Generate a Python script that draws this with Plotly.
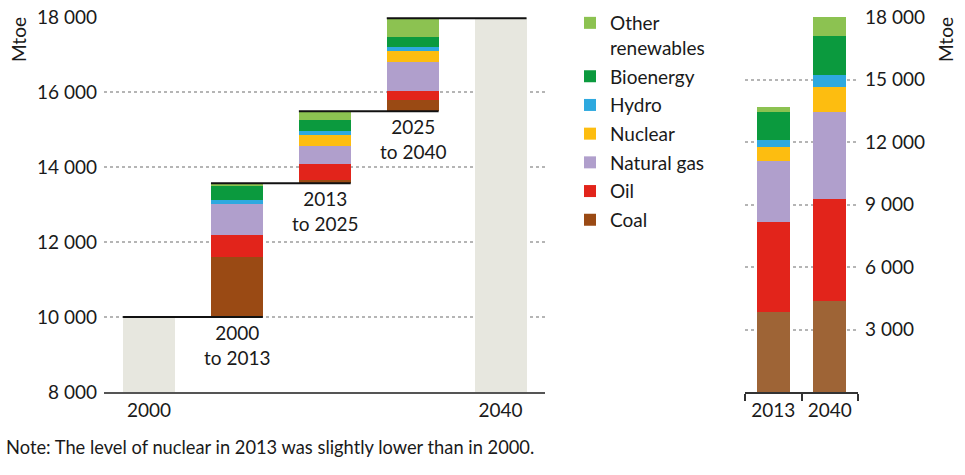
import plotly.graph_objects as go

# ---------------- data ----------------
fuels = ["Coal", "Oil", "Natural gas", "Nuclear", "Hydro", "Bioenergy", "Other<br>renewables"]
colors_left = ["#9a4a14", "#e2241b", "#b09fcc", "#fdbd10", "#2ea9df", "#0b9a3e", "#8cc251"]
colors_right = ["#9e6436", "#e2241b", "#b09fcc", "#fdbd10", "#2ea9df", "#0b9a3e", "#8cc251"]

end_labels = ["2000", "2040"]
end_values = [10000, 17970]          # total demand, Mtoe
step_labels = ["2000<br>to 2013", "2013<br>to 2025", "2025<br>to 2040"]

coal_delta = [1590, 80, 310]
oil_delta = [600, 420, 220]
gas_delta = [820, 500, 780]
nuclear_delta = [0, 285, 290]
hydro_delta = [120, 100, 105]
bio_delta = [370, 300, 265]
other_delta = [70, 235, 510]
deltas = [coal_delta, oil_delta, gas_delta, nuclear_delta, hydro_delta, bio_delta, other_delta]

right_years = ["2013", "2040"]
coal_lvl = [3860, 4370]
oil_lvl = [4290, 4890]
gas_lvl = [2940, 4180]
nuclear_lvl = [690, 1200]
hydro_lvl = [320, 590]
bio_lvl = [1350, 1860]
other_lvl = [250, 915]
levels = [coal_lvl, oil_lvl, gas_lvl, nuclear_lvl, hydro_lvl, bio_lvl, other_lvl]

left_ticks = [8000, 10000, 12000, 14000, 16000, 18000]
left_ticktext = ["8 000", "10 000", "12 000", "14 000", "16 000", "18 000"]
right_ticks = [3000, 6000, 9000, 12000, 15000, 18000]
right_ticktext = ["3 000", "6 000", "9 000", "12 000", "15 000", "18 000"]

# ---------------- layout helpers ----------------
W, H = 965, 475
FONT = "Lato, 'Open Sans', sans-serif"
TXT = "#1a1a1a"
BW = 0.59
GRAY = "#e7e7df"
GRID = "#b5b5b5"
FS = 19

fig = go.Figure()

# end bars (2000, 2040)
fig.add_trace(go.Bar(x=[0, 4], y=end_values, width=BW, marker=dict(color=GRAY, line=dict(width=0)),
                     showlegend=False, hoverinfo="skip", xaxis="x", yaxis="y"))

# waterfall steps
step_x = [1, 2, 3]
lvl = end_values[0]
step_starts = []
for i in range(3):
    step_starts.append(lvl)
    lvl += sum(d[i] for d in deltas)
final_level = lvl

running = list(step_starts)
for f, name in enumerate(fuels):
    fig.add_trace(go.Bar(x=step_x, y=deltas[f], base=list(running), width=BW,
                         marker=dict(color=colors_left[f], line=dict(width=0)),
                         name=name, legendgroup=name, legendrank=100 - f, showlegend=True,
                         xaxis="x", yaxis="y"))
    running = [running[i] + deltas[f][i] for i in range(3)]

# connector lines
lx, ly = [], []
all_levels = step_starts + [final_level]
for k, L in enumerate(all_levels):
    lx += [k - BW / 2, k + 1 + BW / 2, None]
    ly += [L, L, None]
fig.add_trace(go.Scatter(x=lx, y=ly, mode="lines", line=dict(color="#111111", width=2),
                         showlegend=False, hoverinfo="skip", xaxis="x", yaxis="y"))

# right chart stacked bars
for f, name in enumerate(fuels):
    fig.add_trace(go.Bar(x=right_years, y=levels[f], width=0.58,
                         marker=dict(color=colors_right[f], line=dict(width=0)),
                         name=name, legendgroup=name, showlegend=False,
                         xaxis="x2", yaxis="y2"))

# step labels
annotations = []
for i in range(3):
    annotations.append(dict(x=step_x[i], y=step_starts[i], xref="x", yref="y", text=step_labels[i],
                            showarrow=False, yanchor="top", yshift=-2,
                            font=dict(size=FS, color=TXT, family=FONT)))
annotations += [
    dict(x=18 / W, y=1 - 40 / H, xref="paper", yref="paper", text="Mtoe", textangle=-90,
         xanchor="center", yanchor="middle",
         showarrow=False, font=dict(size=FS, color=TXT, family=FONT)),
    dict(x=945 / W, y=1 - 40 / H, xref="paper", yref="paper", text="Mtoe", textangle=-90,
         xanchor="center", yanchor="middle",
         showarrow=False, font=dict(size=FS, color=TXT, family=FONT)),
    dict(x=4 / W, y=1 - 447 / H, xref="paper", yref="paper", xanchor="left", yanchor="middle",
         text="Note: The level of nuclear in 2013 was slightly lower than in 2000.",
         showarrow=False, font=dict(size=18.3, color=TXT, family=FONT)),
]

ydom = [(H - 392) / H, (H - 17) / H]

fig.update_layout(
    width=W, height=H, autosize=False,
    margin=dict(l=0, r=0, t=0, b=0, pad=0, autoexpand=False),
    paper_bgcolor="white", plot_bgcolor="white",
    barmode="stack",
    font=dict(family=FONT, size=FS, color=TXT),
    showlegend=True,
    legend=dict(x=570 / W, y=1 - 4 / H, xanchor="left", yanchor="top",
                traceorder="grouped", tracegroupgap=1, valign="top",
                font=dict(size=19, color=TXT, family=FONT), bgcolor="rgba(0,0,0,0)"),
    xaxis=dict(domain=[104 / W, 545 / W], range=[-0.512, 4.505], tickmode="array",
               tickvals=[0, 4], ticktext=end_labels, showgrid=False, zeroline=False,
               showline=True, linecolor="#555555", linewidth=2, ticks="", automargin=False,
               tickfont=dict(size=FS, color=TXT, family=FONT), fixedrange=True),
    yaxis=dict(domain=ydom, range=[8000, 18000], tickmode="array", tickvals=left_ticks,
               ticktext=left_ticktext, showgrid=True, gridcolor=GRID, griddash="dot", gridwidth=1.5,
               zeroline=False, showline=False, ticks="", ticklabelstandoff=6, automargin=False,
               tickfont=dict(size=FS, color=TXT, family=FONT)),
    xaxis2=dict(domain=[745 / W, 858 / W], type="category", range=[-0.5, 1.5],
                showgrid=False, zeroline=False, showline=True, linecolor="#333333", linewidth=1.5,
                ticks="outside", tickson="boundaries", ticklen=7, tickcolor="#333333", tickwidth=1.5,
                automargin=False,
                tickfont=dict(size=FS, color=TXT, family=FONT), anchor="y2"),
    yaxis2=dict(domain=ydom, range=[0, 18000], side="right", anchor="x2", tickmode="array",
                tickvals=right_ticks, ticktext=right_ticktext, showgrid=True, gridcolor=GRID,
                griddash="dot", gridwidth=1.5, zeroline=False, showline=False, ticks="",
                ticklabelstandoff=6, automargin=False, tickfont=dict(size=FS, color=TXT, family=FONT)),
    annotations=annotations,
    bargap=0,
)

fig.write_html("out.html", config={"displayModeBar": False},
               post_script="document.body.style.margin='0px';")
